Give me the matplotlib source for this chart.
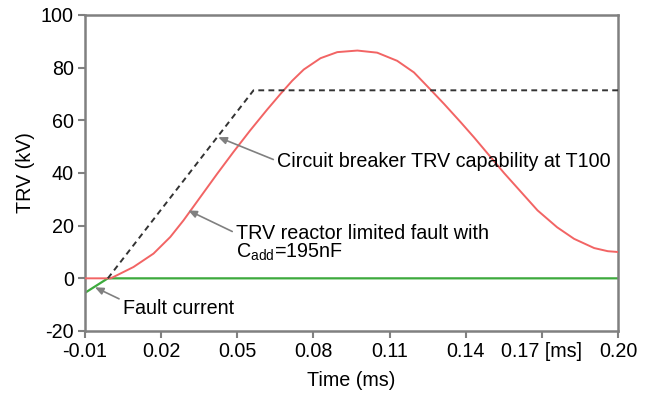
import matplotlib
matplotlib.use('Agg')
import matplotlib.pyplot as plt

plt.rcParams['font.family'] = ['Liberation Sans', 'DejaVu Sans']
plt.rcParams['mathtext.fontset'] = 'custom'
plt.rcParams['mathtext.rm'] = 'Liberation Sans'
plt.rcParams['axes.unicode_minus'] = False

# TRV reactor limited fault (red curve)
trv_t = [-0.01, 0.0, 0.0012, 0.0091, 0.017, 0.0236, 0.0288, 0.0354, 0.042, 0.0485,
         0.0551, 0.0617, 0.067, 0.0716, 0.0762, 0.0828, 0.0894, 0.0973, 0.1051,
         0.113, 0.1196, 0.1255, 0.1315, 0.138, 0.1433, 0.1551, 0.1683, 0.176,
         0.1827, 0.1906, 0.196, 0.20]
trv_v = [0, 0, 0.5, 4.3, 9.4, 15.7, 22.0, 30.8, 39.6, 48.0,
         56.2, 64.0, 70.0, 75.0, 79.3, 83.6, 85.9, 86.5, 85.7,
         82.6, 78.2, 72.3, 66.2, 59.3, 53.5, 40.0, 25.8, 19.4,
         15.0, 11.5, 10.3, 10.0]

# breaker capability envelope (dashed)
cap_t = [-0.001, 0.0564, 0.20]
cap_v = [0, 71.4, 71.4]

# fault current (green)
fault_t = [-0.01, -0.001, 0.20]
fault_v = [-5.5, 0, 0]

xticks = [-0.01, 0.02, 0.05, 0.08, 0.11, 0.14, 0.17, 0.20]
xtick_labels = ['-0.01', '0.02', '0.05', '0.08', '0.11', '0.14', '0.17 [ms]', '0.20']
yticks = [-20, 0, 20, 40, 60, 80, 100]

fs = 14.2

fig = plt.figure(figsize=(6.49, 3.96), dpi=100)
ax = fig.add_axes([85/649, 1-331/396, (618-85)/649, (331-15)/396])

ax.plot(fault_t, fault_v, color='#3daa3d', lw=1.6, zorder=2)
ax.plot(trv_t, trv_v, color='#f26464', lw=1.4, zorder=3)
ax.plot(cap_t, cap_v, color='#333333', lw=1.4, ls=(0, (3, 2.2)), zorder=4)

ax.set_xlim(-0.01, 0.20)
ax.set_ylim(-20, 100)
ax.set_xticks(xticks)
ax.set_xticklabels(xtick_labels)
ax.set_yticks(yticks)
ax.tick_params(labelsize=fs, color='#808080', width=1.5, length=5, pad=3)
for s in ax.spines.values():
    s.set_color('#808080')
    s.set_linewidth(1.8)

ax.set_xlabel('Time (ms)', fontsize=fs, labelpad=7)
ax.set_ylabel('TRV (kV)', fontsize=fs, labelpad=4)


def arrow(rel):
    return dict(arrowstyle='-|>,head_length=0.35,head_width=0.15', color='#808080',
                lw=1.2, shrinkA=1, shrinkB=0, relpos=rel)


ax.annotate('Circuit breaker TRV capability at T100', xy=(0.0425, 53.6),
            xytext=(0.0658, 44.5), fontsize=fs, va='center', ha='left',
            arrowprops=arrow((0, 0.5)))
ax.annotate('TRV reactor limited fault with\nC$_{\\mathrm{add}}$=195nF',
            xy=(0.0307, 25.8), xytext=(0.0496, 13.3), fontsize=fs, va='center',
            ha='left', linespacing=0.95, arrowprops=arrow((0, 0.75)))
ax.annotate('Fault current', xy=(-0.0061, -3.4), xytext=(0.005, -11.4),
            fontsize=fs, va='center', ha='left', arrowprops=arrow((0, 0.9)))

fig.savefig('out.png', dpi=100)
